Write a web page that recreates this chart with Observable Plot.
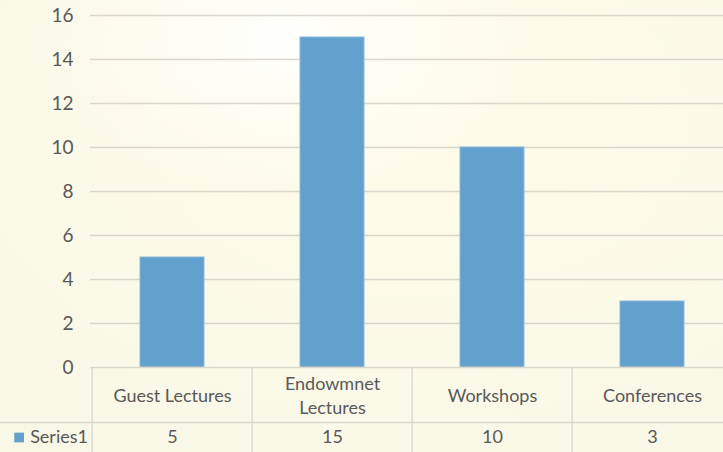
<!DOCTYPE html>
<html>
<head>
<meta charset="utf-8">
<script src="https://cdn.jsdelivr.net/npm/d3@7"></script>
<script src="https://cdn.jsdelivr.net/npm/@observablehq/plot@0.6"></script>
<style>
  html, body { margin: 0; padding: 0; }
  body {
    width: 723px; height: 452px; overflow: hidden;
    background:
      radial-gradient(ellipse 260px 160px at 285px 40px, rgba(255,255,255,0.95) 0, rgba(255,255,250,0.5) 45%, rgba(255,255,255,0) 100%),
      radial-gradient(ellipse 600px 400px at 420px 120px, #fefbe9 0, #fbf9e7 60%, #f9f7e6 100%);
  }
  #chart { width: 723px; height: 452px; overflow: hidden; }
  #chart svg { display: block; background: transparent; max-width: none !important; width: 733px; height: 452px; }
</style>
</head>
<body>
<div id="chart"></div>
<script>
const categories = ["Guest Lectures", "Endowmnet\nLectures", "Workshops", "Conferences"];
const values = [5, 15, 10, 3];
const seriesName = "Series1";
const yTicks = [0, 2, 4, 6, 8, 10, 12, 14, 16];

const data = categories.map((c, i) => ({category: c, value: values[i]}));

// the chart area runs slightly past the right edge of the visible window (cropped)
const W = 733, H = 452;
const mTop = 15, mBottom = 85, mLeft = 90, mRight = 0;
const step = (W - mLeft - mRight) / categories.length;
const pxPerUnit = (H - mTop - mBottom) / 16;
const row1 = -55 / pxPerUnit;            // bottom of category row (data units, extrapolated)
const tableBottom = -mBottom / pxPerUnit;
const lineColor = "#d9d7cc";
const textColor = "#595959";
const barColor = "#62a0cd";
const font = "Lato, 'Open Sans', sans-serif";
const fs = 18;

const firstCat = categories[0];

const chart = Plot.plot({
  width: W,
  height: H,
  marginTop: mTop,
  marginBottom: mBottom,
  marginLeft: mLeft,
  marginRight: mRight,
  style: {fontFamily: font, fontSize: fs + "px", color: textColor, background: "transparent", overflow: "visible", maxWidth: "none"},
  x: {domain: categories, paddingInner: 0.6, paddingOuter: 0.3, axis: null},
  y: {domain: [0, 16], ticks: yTicks, label: null, axis: null},
  marks: [
    Plot.gridY(yTicks.filter(t => t > 0), {stroke: lineColor, strokeOpacity: 1, strokeWidth: 1.3}),
    Plot.barY(data, {x: "category", y: "value", fill: barColor, stroke: "#8ab8dc", strokeWidth: 1}),
    Plot.axisY({ticks: yTicks, tickSize: 0, tickPadding: 17, fontSize: fs + 1, fill: textColor, label: null}),
    // table horizontal lines
    Plot.ruleY([0], {stroke: lineColor, strokeWidth: 1.3}),
    Plot.ruleY([row1], {stroke: lineColor, strokeWidth: 1.3, insetLeft: -mLeft}),
    // table vertical lines (band edges)
    Plot.ruleX(categories, {x: d => d, y1: 0, y2: tableBottom, dx: -step / 2, stroke: lineColor, strokeWidth: 1.3}),
    // category labels
    Plot.text(data, {x: "category", y: 0, text: "category", dy: 27, fill: textColor, fontSize: fs, lineHeight: 1.3}),
    // values row
    Plot.text(data, {x: "category", y: row1, text: d => String(d.value), dy: 15, fill: textColor, fontSize: fs}),
    // legend key
    Plot.text([seriesName], {x: () => firstCat, y: () => row1, text: d => d, dx: -step / 2 - 62, dy: 15, textAnchor: "start", fill: textColor, fontSize: fs}),
    Plot.dot([seriesName], {x: () => firstCat, y: () => row1, dx: -step / 2 - 73, dy: 15, symbol: "square", r: 5.5, fill: barColor})
  ]
});

document.getElementById("chart").append(chart);
</script>
</body>
</html>
